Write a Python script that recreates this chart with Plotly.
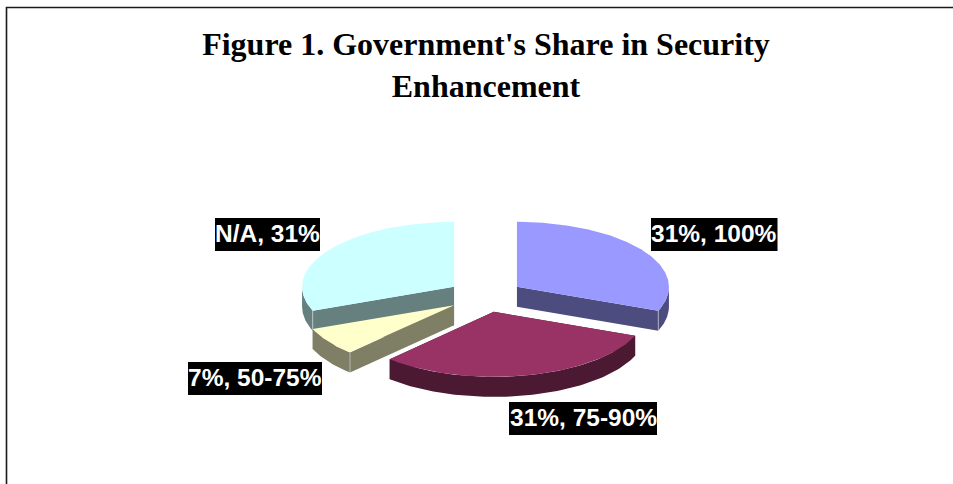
import numpy as np
import plotly.graph_objects as go

# Shares of each response, clockwise from twelve o'clock
categories = ["100%", "75-90%", "50-75%", "N/A"]
shares = [31, 31, 7, 31]
slice_labels = ["31%, 100%", "31%, 75-90%", "7%, 50-75%", "N/A, 31%"]
title_text = "Figure 1. Government's Share in Security<br>Enhancement"

top_colors = ["#9999FF", "#993366", "#FFFFCC", "#CCFFFF"]
side_colors = ["#4C4C7F", "#4C1933", "#7F7F66", "#667F7F"]

# Projection of the tilted pie onto the page, in pixels
WIDTH, HEIGHT = 953, 484
CX, CY = 485.5, 296.0
RX, RY = 152.0, 65.0
DEPTH = 20.0
EXPLODE = 0.25
PAINT_ORDER = [0, 3, 2, 1]

# Label boxes: left, right, top, bottom
label_boxes = {
    0: (651, 777.5, 218, 251),
    1: (509, 657, 402, 435),
    2: (188, 322, 362, 395),
    3: (215, 320, 218, 251),
}
TEXT_LIFT = 1.0


def ellipse(theta, cx, cy):
    return cx + RX * np.sin(theta), cy - RY * np.cos(theta)


def polygon(fig, xs, ys, color):
    fig.add_trace(go.Scatter(
        x=xs, y=ys, mode="lines", fill="toself", fillcolor=color,
        line=dict(color=color, width=0), hoverinfo="skip", showlegend=False,
    ))


fig = go.Figure()

edges = np.concatenate([[0], np.cumsum(shares)]) / sum(shares) * 2 * np.pi

for i in PAINT_ORDER:
    start, end = edges[i], edges[i + 1]
    mid = (start + end) / 2
    cx = CX + EXPLODE * RX * np.sin(mid)
    cy = CY - EXPLODE * RY * np.cos(mid)

    # Straight cut faces
    for angle in (start, end):
        ex, ey = ellipse(angle, cx, cy)
        polygon(fig, [cx, ex, ex, cx, cx], [cy, ey, ey + DEPTH, cy + DEPTH, cy], side_colors[i])

    # Curved outer wall, front half of the ellipse only
    lo, hi = max(start, np.pi / 2), min(end, 3 * np.pi / 2)
    if lo < hi:
        arc = np.linspace(lo, hi, 80)
        ax, ay = ellipse(arc, cx, cy)
        polygon(fig,
                np.concatenate([ax, ax[::-1]]),
                np.concatenate([ay, ay[::-1] + DEPTH]),
                side_colors[i])

    # Pale highlight on the vertical edge where the cut face meets the wall
    if i != 1:
        corner = end if i == 0 else start
        ex, ey = ellipse(corner, cx, cy)
        fig.add_trace(go.Scatter(
            x=[ex, ex], y=[ey, ey + DEPTH], mode="lines",
            line=dict(color="rgba(255,255,255,0.45)", width=1),
            hoverinfo="skip", showlegend=False,
        ))

    # Top face
    arc = np.linspace(start, end, 160)
    ax, ay = ellipse(arc, cx, cy)
    polygon(fig,
            np.concatenate([[cx], ax, [cx]]),
            np.concatenate([[cy], ay, [cy]]),
            top_colors[i])

shapes = [dict(
    type="path", xref="x", yref="y",
    path=f"M 6.5 {HEIGHT + 2} L 6.5 7.5 L {WIDTH + 2} 7.5",
    line=dict(color="#1a1a1a", width=1.6),
)]

for i, text in enumerate(slice_labels):
    left, right, top, bottom = label_boxes[i]
    shapes.append(dict(
        type="rect", xref="x", yref="y", layer="above",
        x0=left, x1=right, y0=top, y1=bottom,
        fillcolor="#000000", line=dict(width=0),
    ))
    fig.add_annotation(
        x=(left + right) / 2, y=(top + bottom) / 2 - TEXT_LIFT,
        text=f"<b>{text}</b>", showarrow=False,
        xref="x", yref="y", xanchor="center", yanchor="middle",
        align="center", borderpad=0,
        font=dict(family="Liberation Sans", size=24.5, color="#FFFFFF"),
    )

fig.update_layout(
    width=WIDTH, height=HEIGHT,
    margin=dict(l=0, r=0, t=0, b=0),
    paper_bgcolor="#FFFFFF", plot_bgcolor="#FFFFFF",
    showlegend=False,
    title=dict(
        text=f"<b>{title_text}</b>",
        x=486 / WIDTH, xanchor="center", y=1 - 55 / HEIGHT, yanchor="middle",
        font=dict(family="Liberation Serif", size=32, color="#000000"),
    ),
    xaxis=dict(range=[0, WIDTH], visible=False, fixedrange=True),
    yaxis=dict(range=[HEIGHT, 0], visible=False, fixedrange=True),
    shapes=shapes,
)

fig.write_html("out.html", config=dict(displayModeBar=False))
